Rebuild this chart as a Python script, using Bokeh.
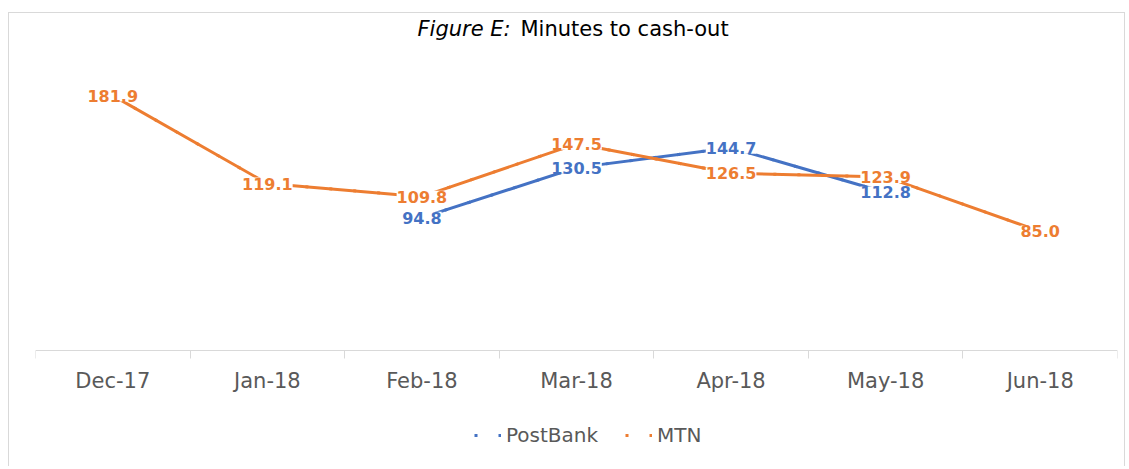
from bokeh.plotting import figure
from bokeh.models import (ColumnDataSource, LabelSet, Label, Range1d, LinearAxis,
                          FixedTicker, Legend, LegendItem)
from bokeh.core.properties import value
from bokeh.embed import file_html
from bokeh.resources import INLINE

# ---- data ----
months = ["Dec-17", "Jan-18", "Feb-18", "Mar-18", "Apr-18", "May-18", "Jun-18"]
postbank = [None, None, 94.8, 130.5, 144.7, 112.8, None]
mtn = [181.9, 119.1, 109.8, 147.5, 126.5, 123.9, 85.0]
series_names = ["PostBank", "MTN"]
colors = ["#4472C4", "#ED7D31"]
title_italic = "Figure E:"
title_rest = "Minutes to cash-out"

FONT = "DejaVu Sans"
GREY = "#595959"
H = 454

def make_source(vals):
    xs = [i for i, v in enumerate(vals) if v is not None]
    ys = [v for v in vals if v is not None]
    return ColumnDataSource(dict(x=xs, y=ys, lbl=["%.1f" % v for v in ys]))

# the frame spans the full chart height; the x axis is pinned at value 0
p = figure(width=1117, height=H, output_backend="svg", toolbar_location=None,
           x_axis_location=None, y_axis_location=None,
           x_range=Range1d(-0.5, len(months) - 0.5), y_range=Range1d(-83.5, 240.5),
           min_border_left=26, min_border_right=9, min_border_top=0, min_border_bottom=0)
p.styles = {"border": "1px solid #d9d9d9", "border-bottom": "none",
            "margin-top": "12px", "margin-left": "8px"}
p.outline_line_color = None
p.xgrid.visible = False
p.ygrid.visible = False
p.background_fill_color = "white"
p.border_fill_color = "white"

# x axis with tick marks between categories
centers = list(range(len(months)))
bounds = [i - 0.5 for i in range(len(months) + 1)]
xaxis = LinearAxis(ticker=FixedTicker(ticks=centers, minor_ticks=bounds),
                   major_label_overrides={i: m for i, m in enumerate(months)},
                   fixed_location=0)
xaxis.axis_line_color = "#d9d9d9"
xaxis.axis_line_width = 1
xaxis.major_tick_line_color = None
xaxis.major_tick_out = 0
xaxis.major_tick_in = 0
xaxis.minor_tick_line_color = "#d9d9d9"
xaxis.minor_tick_out = 8
xaxis.minor_tick_in = 0
xaxis.major_label_text_font = FONT
xaxis.major_label_text_font_size = "21px"
xaxis.major_label_text_color = GREY
xaxis.major_label_standoff = 11
p.add_layout(xaxis, "below")

sources = [make_source(postbank), make_source(mtn)]
legend_items = []
for name, src, col in zip(series_names, sources, colors):
    # dotted twin of the series (hidden under the solid line) used as legend glyph
    dotted = p.line("x", "y", source=src, line_color=col, line_width=3,
                    line_dash="3 21")
    p.line("x", "y", source=src, line_color=col, line_width=3,
           line_join="round", line_cap="round")
    legend_items.append(LegendItem(label=name, renderers=[dotted]))

for src, col in zip(sources, colors):
    p.add_layout(LabelSet(x="x", y="y", text="lbl", source=src,
                          text_align="center", text_baseline="middle",
                          text_font=value(FONT), text_font_style="bold",
                          text_font_size="16px", text_color=col,
                          background_fill_color="white"))

legend = Legend(items=legend_items, orientation="horizontal",
                location=(439, 20), glyph_width=27, glyph_height=20,
                label_standoff=5, spacing=27, padding=0, margin=0,
                border_line_color=None, background_fill_alpha=0,
                label_text_font=FONT, label_text_font_size="20px",
                label_text_color=GREY)
p.add_layout(legend, "center")

# title: italic part + regular part
p.add_layout(Label(x=382, y=H - 15, x_units="screen", y_units="screen",
                   text=title_italic, text_font=FONT, text_font_style="italic",
                   text_font_size="21px", text_color="#000000",
                   text_align="left", text_baseline="middle"))
p.add_layout(Label(x=485, y=H - 15, x_units="screen", y_units="screen",
                   text=title_rest, text_font=FONT,
                   text_font_size="21px", text_color="#000000",
                   text_align="left", text_baseline="middle"))

open("out.html", "w").write(file_html(p, INLINE))
